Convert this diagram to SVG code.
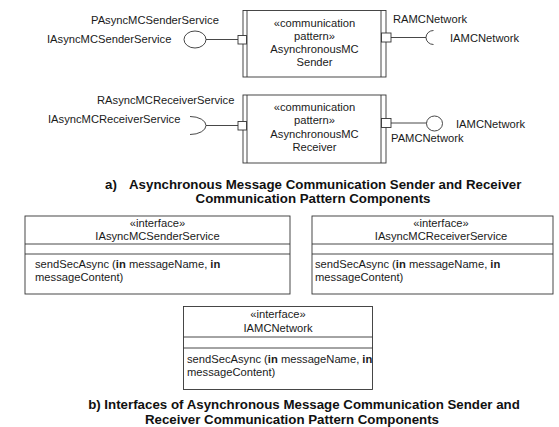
<svg xmlns="http://www.w3.org/2000/svg" width="559" height="427" viewBox="0 0 559 427">
  <style>
    .t { font-family: "Liberation Sans", Arial, sans-serif; font-size: 11.2px; fill: #1a1a1a; }
    .c { text-anchor: middle; }
    .cap { font-family: "Liberation Sans", Arial, sans-serif; font-size: 13.3px; font-weight: bold; fill: #111; }
    .ln { fill: none; stroke: #333; stroke-width: 0.9; }
    .box { fill: #fff; stroke: #333; stroke-width: 0.9; }
    .b { font-weight: bold; }
  </style>
  <rect width="559" height="427" fill="#fff"/>

  <!-- connectors: ports, assembly lines, lollipops and sockets -->
  <g id="connectors">
    <!-- sender: provided service interface -->
    <line class="ln" x1="206" y1="39.5" x2="238" y2="39.5"/>
    <ellipse class="ln" cx="195" cy="39.5" rx="11" ry="8.5"/>
    <!-- sender: required network interface -->
    <line class="ln" x1="391" y1="37.5" x2="426" y2="37.5"/>
    <path class="ln" d="M433.5,30.5 A7.5,7 0 0 0 433.5,44.5"/>
    <!-- receiver: required service interface -->
    <line class="ln" x1="206" y1="125.5" x2="238" y2="125.5"/>
    <path class="ln" d="M190,116.5 A16,9 0 0 1 190,134.5"/>
    <!-- receiver: provided network interface -->
    <line class="ln" x1="391" y1="123" x2="426.5" y2="123"/>
    <ellipse class="ln" cx="434.5" cy="123.5" rx="8" ry="7.5"/>
  </g>

  <!-- AsynchronousMC Sender component -->
  <g id="sender">
    <rect class="box" x="243" y="10.5" width="143" height="66.5"/>
    <line class="ln" x1="247" y1="10.5" x2="247" y2="77"/>
    <line class="ln" x1="381" y1="10.5" x2="381" y2="77"/>
    <rect class="box" x="238" y="35.5" width="8.5" height="8.5"/>
    <rect class="box" x="381.5" y="33" width="9.5" height="9"/>
    <text class="t c" x="314.5" y="27">«communication</text>
    <text class="t c" x="314.5" y="40">pattern»</text>
    <text class="t c" x="314.5" y="53">AsynchronousMC</text>
    <text class="t c" x="314.5" y="66">Sender</text>
    <text class="t" x="91" y="24">PAsyncMCSenderService</text>
    <text class="t" x="47" y="43">IAsyncMCSenderService</text>
    <text class="t" x="393" y="23">RAMCNetwork</text>
    <text class="t" x="450" y="42">IAMCNetwork</text>
  </g>

  <!-- AsynchronousMC Receiver component -->
  <g id="receiver">
    <rect class="box" x="243" y="95" width="143" height="68"/>
    <line class="ln" x1="247" y1="95" x2="247" y2="163"/>
    <line class="ln" x1="381" y1="95" x2="381" y2="163"/>
    <rect class="box" x="238" y="121.5" width="8.5" height="8.5"/>
    <rect class="box" x="381.5" y="118.5" width="9.5" height="9"/>
    <text class="t c" x="314.5" y="110.5">«communication</text>
    <text class="t c" x="314.5" y="124">pattern»</text>
    <text class="t c" x="314.5" y="137.5">AsynchronousMC</text>
    <text class="t c" x="314.5" y="151">Receiver</text>
    <text class="t" x="97" y="104">RAsyncMCReceiverService</text>
    <text class="t" x="48" y="123">IAsyncMCReceiverService</text>
    <text class="t" x="456" y="128">IAMCNetwork</text>
    <text class="t" x="391" y="142">PAMCNetwork</text>
  </g>

  <!-- caption a -->
  <g id="caption-a">
    <text class="cap" x="105" y="188.5">a)</text>
    <text class="cap" x="129" y="188.5">Asynchronous Message Communication Sender and Receiver</text>
    <text class="cap c" x="313" y="203">Communication Pattern Components</text>
  </g>

  <!-- interface IAsyncMCSenderService -->
  <g id="if-sender">
    <rect class="box" x="25" y="216" width="265" height="78"/>
    <line class="ln" x1="25" y1="244" x2="290" y2="244"/>
    <line class="ln" x1="25" y1="254" x2="290" y2="254"/>
    <text class="t c" x="157.5" y="227">«interface»</text>
    <text class="t c" x="157.5" y="240">IAsyncMCSenderService</text>
    <text class="t" x="35" y="268">sendSecAsync (<tspan class="b">in</tspan> messageName, <tspan class="b">in</tspan></text>
    <text class="t" x="35" y="281">messageContent)</text>
  </g>

  <!-- interface IAsyncMCReceiverService -->
  <g id="if-receiver">
    <rect class="box" x="312" y="216" width="241" height="78"/>
    <line class="ln" x1="312" y1="244" x2="553" y2="244"/>
    <line class="ln" x1="312" y1="254" x2="553" y2="254"/>
    <text class="t c" x="441" y="227">«interface»</text>
    <text class="t c" x="441" y="240">IAsyncMCReceiverService</text>
    <text class="t" x="315" y="268">sendSecAsync (<tspan class="b">in</tspan> messageName, <tspan class="b">in</tspan></text>
    <text class="t" x="315" y="281">messageContent)</text>
  </g>

  <!-- interface IAMCNetwork -->
  <g id="if-network">
    <rect class="box" x="183.5" y="306.5" width="189" height="83"/>
    <line class="ln" x1="183.5" y1="337" x2="372.5" y2="337"/>
    <line class="ln" x1="183.5" y1="348" x2="372.5" y2="348"/>
    <text class="t c" x="278" y="318">«interface»</text>
    <text class="t c" x="278" y="332">IAMCNetwork</text>
    <text class="t" x="187" y="363">sendSecAsync (<tspan class="b">in</tspan> messageName, <tspan class="b">in</tspan></text>
    <text class="t" x="187" y="376">messageContent)</text>
  </g>

  <!-- caption b -->
  <g id="caption-b">
    <text class="cap c" x="304" y="409">b) Interfaces of Asynchronous Message Communication Sender and</text>
    <text class="cap c" x="292" y="424">Receiver Communication Pattern Components</text>
  </g>
</svg>
